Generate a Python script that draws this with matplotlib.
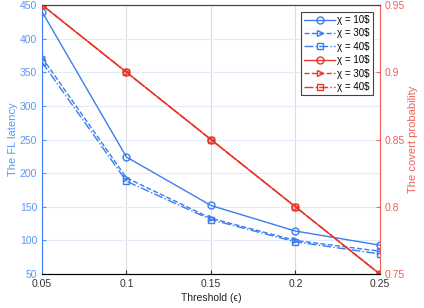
import matplotlib.pyplot as plt

plt.rcParams['font.family'] = ['Liberation Sans', 'DejaVu Sans']

thresholds = [0.05, 0.1, 0.15, 0.2, 0.25]
latency_10 = [440, 224, 152, 114, 93]
latency_30 = [372, 193, 133, 100, 84]
latency_40 = [365, 188, 131, 98, 80]
covert_10 = [0.95, 0.9, 0.85, 0.8, 0.75]
covert_30 = [0.95, 0.9, 0.85, 0.8, 0.75]
covert_40 = [0.95, 0.9, 0.85, 0.8, 0.75]
labels = [r'χ = 10\$', r'χ = 30\$', r'χ = 40\$']

blue = '#3b7df0'
blue_txt = '#5b96f5'
red = '#e8372b'
red_txt = '#f0605a'

fig = plt.figure(figsize=(4.24, 3.08), dpi=100)
ax = fig.add_axes([0.099, 0.110, 0.797, 0.874])
ax2 = ax.twinx()

h = []
h += ax.plot(thresholds, latency_10, '-', marker='o', color=blue, lw=1, ms=5, mfc='none', label=labels[0])
h += ax.plot(thresholds, latency_30, '--', marker='>', color=blue, lw=1, ms=5, mfc='none', label=labels[1])
h += ax.plot(thresholds, latency_40, '-.', marker='s', color=blue, lw=1, ms=4, mfc='none', label=labels[2])
h += ax2.plot(thresholds, covert_10, '-', marker='o', color=red, lw=1, ms=5, mfc='none', label=labels[0])
h += ax2.plot(thresholds, covert_30, '--', marker='>', color=red, lw=1, ms=5, mfc='none', label=labels[1])
h += ax2.plot(thresholds, covert_40, '-.', marker='s', color=red, lw=1, ms=4, mfc='none', label=labels[2])

ax.set_xlim(0.05, 0.25)
ax.set_ylim(50, 450)
ax2.set_ylim(0.75, 0.95)
ax.set_xticks(thresholds)
ax.set_xticklabels(['0.05', '0.1', '0.15', '0.2', '0.25'])
ax.set_yticks(range(50, 451, 50))
ax2.set_yticks([0.75, 0.8, 0.85, 0.9, 0.95])
ax2.set_yticklabels(['0.75', '0.8', '0.85', '0.9', '0.95'])

ax.xaxis.grid(True, color='#dddddd', lw=0.8)
ax.yaxis.grid(True, color='#e3ecfb', lw=0.8)
ax.set_axisbelow(True)

ax.tick_params(axis='x', labelsize=7.5, colors='#333333', direction='in', length=3)
ax.tick_params(axis='y', labelsize=7.5, colors=blue_txt, direction='in', length=3)
ax2.tick_params(axis='y', labelsize=7.5, colors=red_txt, direction='in', length=3)
ax.spines['left'].set_color(blue)
ax.spines['right'].set_visible(False)
ax2.spines['left'].set_visible(False)
ax2.spines['right'].set_color(red_txt)
ax2.spines['top'].set_color('#444444')
ax.spines['top'].set_color('#444444')
ax.spines['bottom'].set_color('#444444')
for s in list(ax.spines.values()) + list(ax2.spines.values()):
    s.set_linewidth(0.8)

ax.set_xlabel('Threshold (ϵ)', fontsize=7.5, color='#222222', labelpad=3)
ax.set_ylabel('The FL latency', fontsize=8, color=blue_txt, labelpad=1)
ax2.set_ylabel('The covert probability', fontsize=8, color=red_txt, labelpad=2)

leg = ax2.legend(h, [l.get_label() for l in h], loc='upper right', bbox_to_anchor=(0.98, 0.975),
                 fontsize=7, fancybox=False, framealpha=1, edgecolor='#444444',
                 handlelength=3.2, labelspacing=0.35, borderpad=0.35, handletextpad=0.2,
                 borderaxespad=0)
leg.get_frame().set_linewidth(0.8)

fig.savefig('out.png', dpi=100)
